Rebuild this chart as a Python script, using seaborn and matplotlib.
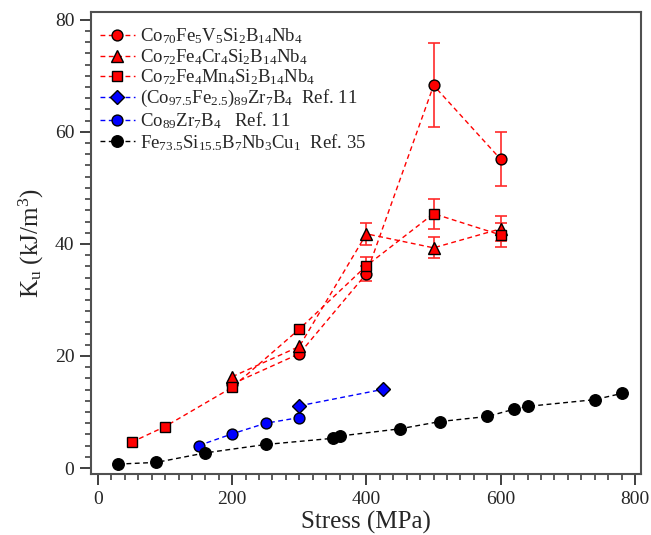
import numpy as np
import pandas as pd
import matplotlib
matplotlib.use("Agg")
import matplotlib.pyplot as plt
import seaborn as sns
from matplotlib.ticker import MultipleLocator

# ---- data ----
v_x = [200, 300, 400, 500, 600]
v_y = [15.0, 20.4, 34.7, 68.3, 55.1]
v_err = [0, 0, 1.3, 7.5, 4.8]

cr_x = [200, 300, 400, 500, 600]
cr_y = [16.3, 21.7, 41.8, 39.3, 42.7]
cr_err = [0, 0, 2.0, 1.9, 2.2]

mn_x = [50, 100, 200, 300, 400, 500, 600]
mn_y = [4.6, 7.4, 14.4, 24.8, 36.1, 45.4, 41.6]
mn_err = [0, 0, 0, 0, 1.5, 2.65, 2.2]

cofe_x = [300, 425]
cofe_y = [11.1, 14.05]

co_x = [150, 200, 250, 300]
co_y = [4.0, 6.1, 8.0, 9.0]

fe_x = [30, 87, 160, 250, 350, 360, 450, 510, 580, 620, 640, 740, 780]
fe_y = [0.7, 1.0, 2.7, 4.2, 5.3, 5.7, 7.0, 8.3, 9.2, 10.5, 11.0, 12.2, 13.3]

labels = [
    r"Co$_{70}$Fe$_5$V$_5$Si$_2$B$_{14}$Nb$_4$",
    r"Co$_{72}$Fe$_4$Cr$_4$Si$_2$B$_{14}$Nb$_4$",
    r"Co$_{72}$Fe$_4$Mn$_4$Si$_2$B$_{14}$Nb$_4$",
    r"(Co$_{97.5}$Fe$_{2.5}$)$_{89}$Zr$_7$B$_4$  Ref. 11",
    r"Co$_{89}$Zr$_7$B$_4$   Ref. 11",
    r"Fe$_{73.5}$Si$_{15.5}$B$_7$Nb$_3$Cu$_1$  Ref. 35",
]

sns.set_style("ticks")
plt.rcParams["font.family"] = ["Liberation Serif", "DejaVu Serif"]
plt.rcParams["mathtext.fontset"] = "custom"
plt.rcParams["mathtext.rm"] = "Liberation Serif"
plt.rcParams["mathtext.it"] = "Liberation Serif:italic"
plt.rcParams["mathtext.bf"] = "Liberation Serif:bold"

fig = plt.figure(figsize=(6.51, 5.35), dpi=100)
ax = fig.add_axes([91 / 651, 1 - 474 / 535, 550 / 651, 462 / 535])

series = [
    (v_x, v_y, v_err, "#ff0000", "o", 7.8),
    (cr_x, cr_y, cr_err, "#ff0000", "^", 8.3),
    (mn_x, mn_y, mn_err, "#ff0000", "s", 7.4),
    (cofe_x, cofe_y, None, "#0000ff", "D", 7.2),
    (co_x, co_y, None, "#0000ff", "o", 7.8),
    (fe_x, fe_y, None, "#000000", "o", 8.3),
]

# error bars first (behind markers)
for xs, ys, errs, col, mk, ms in series:
    if errs is not None:
        xe = [x for x, e in zip(xs, errs) if e > 0]
        ye = [y for y, e in zip(ys, errs) if e > 0]
        ee = [e for e in errs if e > 0]
        ax.errorbar(xe, ye, yerr=ee, fmt="none", ecolor="#ff2a2a", elinewidth=1.2,
                    capsize=4, capthick=1.2, zorder=2)

for (xs, ys, errs, col, mk, ms), lab in zip(series, labels):
    df = pd.DataFrame({"x": xs, "y": ys})
    sns.lineplot(data=df, x="x", y="y", ax=ax, color=col, marker=mk,
                 markersize=ms, markeredgecolor="black", markeredgewidth=1.0,
                 linestyle=(0, (3.5, 2.5)), linewidth=1.0, estimator=None,
                 sort=False, label=lab, zorder=3)

ax.set_xlim(-10.4, 809)
ax.set_ylim(-1.07, 81.4)
ax.xaxis.set_major_locator(MultipleLocator(200))
ax.xaxis.set_minor_locator(MultipleLocator(20))
ax.yaxis.set_major_locator(MultipleLocator(20))
ax.yaxis.set_minor_locator(MultipleLocator(2))

for sp in ax.spines.values():
    sp.set_color("#505050")
    sp.set_linewidth(1.5)

ax.tick_params(axis="both", which="major", direction="out", length=8, width=1.3,
               color="#303030", labelsize=14, pad=4)
ax.tick_params(axis="both", which="minor", direction="out", length=4.5, width=1.1,
               color="#303030")
ax.tick_params(top=False, right=False, which="both")

ax.set_xlabel("Stress (MPa)", fontsize=18, labelpad=2)
ax.set_ylabel(r"K$_{\rm u}$ (kJ/m$^3$)", fontsize=18, labelpad=6)

leg = ax.legend(loc="upper left", frameon=False, fontsize=13.5, handlelength=1.85,
                handletextpad=0.3, labelspacing=0.05, borderaxespad=0.0,
                borderpad=0.4, bbox_to_anchor=(0.003, 0.985))

fig.savefig("out.png", dpi=100)
